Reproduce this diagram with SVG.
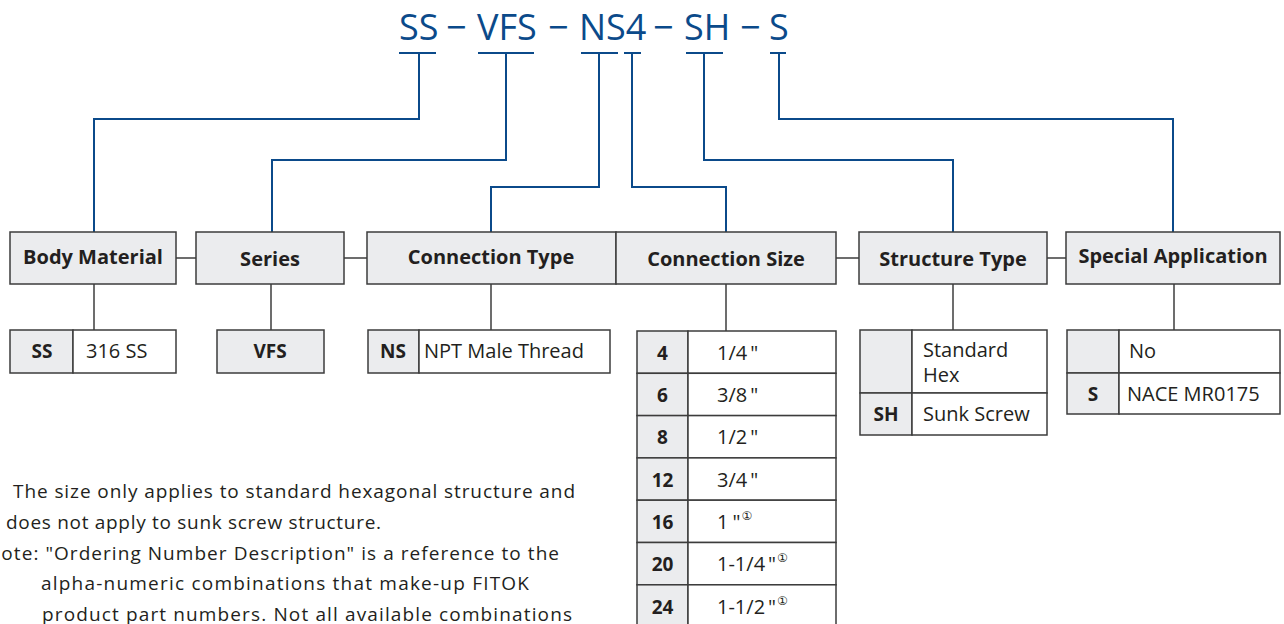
<svg xmlns="http://www.w3.org/2000/svg" width="1284" height="624" viewBox="0 0 1284 624">
<style>
.t{font-family:"Open Sans","DejaVu Sans",sans-serif;fill:#231f20}
.title{font-family:"Open Sans","DejaVu Sans",sans-serif;fill:#0b4a8a;font-size:36px}
.h{font-size:20px;font-weight:bold;text-anchor:middle}
.c{font-size:19px;font-weight:bold;text-anchor:middle}
.v{font-size:20px}
.n{font-size:19px}
.sup{font-size:12px;font-family:"DejaVu Sans",sans-serif}
.hbox{fill:#ebecee;stroke:#3c3c3c;stroke-width:1.5}
.code{fill:#ebecee;stroke:#3c3c3c;stroke-width:1.5}
.val{fill:#ffffff;stroke:#3c3c3c;stroke-width:1.5}
.blue{fill:none;stroke:#0b4a8a;stroke-width:2}
.gray{fill:none;stroke:#3c3c3c;stroke-width:1.5}
</style>
<rect width="1284" height="624" fill="#ffffff"/>

<g id="title">
<text class="title" y="40"><tspan x="399">SS</tspan><tspan x="446">−</tspan><tspan x="477">VFS</tspan><tspan x="548">−</tspan><tspan x="579">NS4</tspan><tspan x="653">−</tspan><tspan x="684">SH</tspan><tspan x="740">−</tspan><tspan x="769">S</tspan></text>
<g class="blue">
<line x1="399" y1="53" x2="436" y2="53"/>
<line x1="478" y1="53" x2="534" y2="53"/>
<line x1="581" y1="53" x2="618" y2="53"/>
<line x1="624" y1="53" x2="641" y2="53"/>
<line x1="686" y1="53" x2="723" y2="53"/>
<line x1="770" y1="53" x2="786" y2="53"/>
</g>
</g>

<g id="connectors">
<g class="blue">
<polyline points="419,53 419,119 94,119 94,232"/>
<polyline points="506,53 506,160 272,160 272,232"/>
<polyline points="599,53 599,187 491,187 491,232"/>
<polyline points="632,53 632,187 726,187 726,232"/>
<polyline points="704,53 704,160 953,160 953,232"/>
<polyline points="779,53 779,119 1173,119 1173,232"/>
</g>
<g class="gray">
<line x1="176" y1="258" x2="196" y2="258"/>
<line x1="344" y1="258" x2="367" y2="258"/>
<line x1="836" y1="258" x2="859" y2="258"/>
<line x1="1047" y1="258" x2="1066" y2="258"/>
<line x1="94" y1="284" x2="94" y2="330"/>
<line x1="271" y1="284" x2="271" y2="330"/>
<line x1="491" y1="284" x2="491" y2="330"/>
<line x1="726" y1="284" x2="726" y2="331"/>
<line x1="953" y1="284" x2="953" y2="330"/>
<line x1="1174" y1="284" x2="1174" y2="330"/>
</g>
</g>

<g id="body-material">
<rect class="hbox" x="10" y="232" width="166" height="52"/>
<text class="t h" x="93" y="264">Body Material</text>
<rect class="code" x="10" y="330" width="63" height="43"/>
<rect class="val" x="73" y="330" width="103" height="43"/>
<text class="t c" x="42" y="358">SS</text>
<text class="t v" x="86" y="358">316 SS</text>
</g>

<g id="series">
<rect class="hbox" x="196" y="232" width="148" height="52"/>
<text class="t h" x="270" y="266">Series</text>
<rect class="code" x="217" y="330" width="107" height="43"/>
<text class="t c" x="270" y="358">VFS</text>
</g>

<g id="connection-type">
<rect class="hbox" x="367" y="232" width="249" height="52"/>
<text class="t h" x="491" y="264">Connection Type</text>
<rect class="code" x="368" y="330" width="51" height="43"/>
<rect class="val" x="419" y="330" width="191" height="43"/>
<text class="t c" x="393" y="358">NS</text>
<text class="t v" x="424" y="358">NPT Male Thread</text>
</g>

<g id="connection-size">
<rect class="hbox" x="616" y="232" width="220" height="52"/>
<text class="t h" x="726" y="266">Connection Size</text>
<rect class="code" x="637" y="331" width="51" height="42.3"/><rect class="val" x="688" y="331" width="148" height="42.3"/>
<rect class="code" x="637" y="373.3" width="51" height="42.3"/><rect class="val" x="688" y="373.3" width="148" height="42.3"/>
<rect class="code" x="637" y="415.6" width="51" height="42.3"/><rect class="val" x="688" y="415.6" width="148" height="42.3"/>
<rect class="code" x="637" y="457.9" width="51" height="42.3"/><rect class="val" x="688" y="457.9" width="148" height="42.3"/>
<rect class="code" x="637" y="500.2" width="51" height="42.3"/><rect class="val" x="688" y="500.2" width="148" height="42.3"/>
<rect class="code" x="637" y="542.5" width="51" height="42.3"/><rect class="val" x="688" y="542.5" width="148" height="42.3"/>
<rect class="code" x="637" y="584.8" width="51" height="42.3"/><rect class="val" x="688" y="584.8" width="148" height="42.3"/>
<text class="t c" x="662.5" y="360">4</text><text class="t v" x="717" y="360">1/4<tspan dx="3">"</tspan></text>
<text class="t c" x="662.5" y="402">6</text><text class="t v" x="717" y="402">3/8<tspan dx="3">"</tspan></text>
<text class="t c" x="662.5" y="444">8</text><text class="t v" x="717" y="444">1/2<tspan dx="3">"</tspan></text>
<text class="t c" x="662.5" y="487">12</text><text class="t v" x="717" y="487">3/4<tspan dx="3">"</tspan></text>
<text class="t c" x="662.5" y="529">16</text><text class="t v" x="717" y="529">1<tspan dx="4">"</tspan><tspan class="sup" dx="1" dy="-9">①</tspan></text>
<text class="t c" x="662.5" y="571">20</text><text class="t v" x="717" y="571">1-1/4<tspan dx="3">"</tspan><tspan class="sup" dx="1" dy="-9">①</tspan></text>
<text class="t c" x="662.5" y="614">24</text><text class="t v" x="717" y="614">1-1/2<tspan dx="3">"</tspan><tspan class="sup" dx="1" dy="-9">①</tspan></text>
</g>

<g id="structure-type">
<rect class="hbox" x="859" y="232" width="188" height="52"/>
<text class="t h" x="953" y="266">Structure Type</text>
<rect class="code" x="860" y="330" width="52" height="63"/><rect class="val" x="912" y="330" width="135" height="63"/>
<rect class="code" x="860" y="393" width="52" height="42"/><rect class="val" x="912" y="393" width="135" height="42"/>
<text class="t v" x="923" y="357">Standard</text>
<text class="t v" x="923" y="382">Hex</text>
<text class="t c" x="886" y="421">SH</text>
<text class="t v" x="923" y="421">Sunk Screw</text>
</g>

<g id="special-application">
<rect class="hbox" x="1066" y="232" width="214" height="52"/>
<text class="t h" x="1173" y="263">Special Application</text>
<rect class="code" x="1067" y="330" width="52" height="43"/><rect class="val" x="1119" y="330" width="161" height="43"/>
<rect class="code" x="1067" y="373" width="52" height="41"/><rect class="val" x="1119" y="373" width="161" height="41"/>
<text class="t v" x="1129" y="358">No</text>
<text class="t c" x="1093" y="401">S</text>
<text class="t v" x="1127" y="401">NACE MR0175</text>
</g>

<g id="notes">
<text class="t n" x="-26" y="498">①<tspan x="13" textLength="562" lengthAdjust="spacing">The size only applies to standard hexagonal structure and</tspan></text>
<text class="t n" x="6" y="528.5" textLength="375" lengthAdjust="spacing">does not apply to sunk screw structure.</text>
<text class="t n" x="-14" y="559.5" textLength="573" lengthAdjust="spacing">Note: "Ordering Number Description" is a reference to the</text>
<text class="t n" x="41" y="590" textLength="488" lengthAdjust="spacing">alpha-numeric combinations that make-up FITOK</text>
<text class="t n" x="42" y="620.5" textLength="530" lengthAdjust="spacing">product part numbers. Not all available combinations</text>
</g>
</svg>
